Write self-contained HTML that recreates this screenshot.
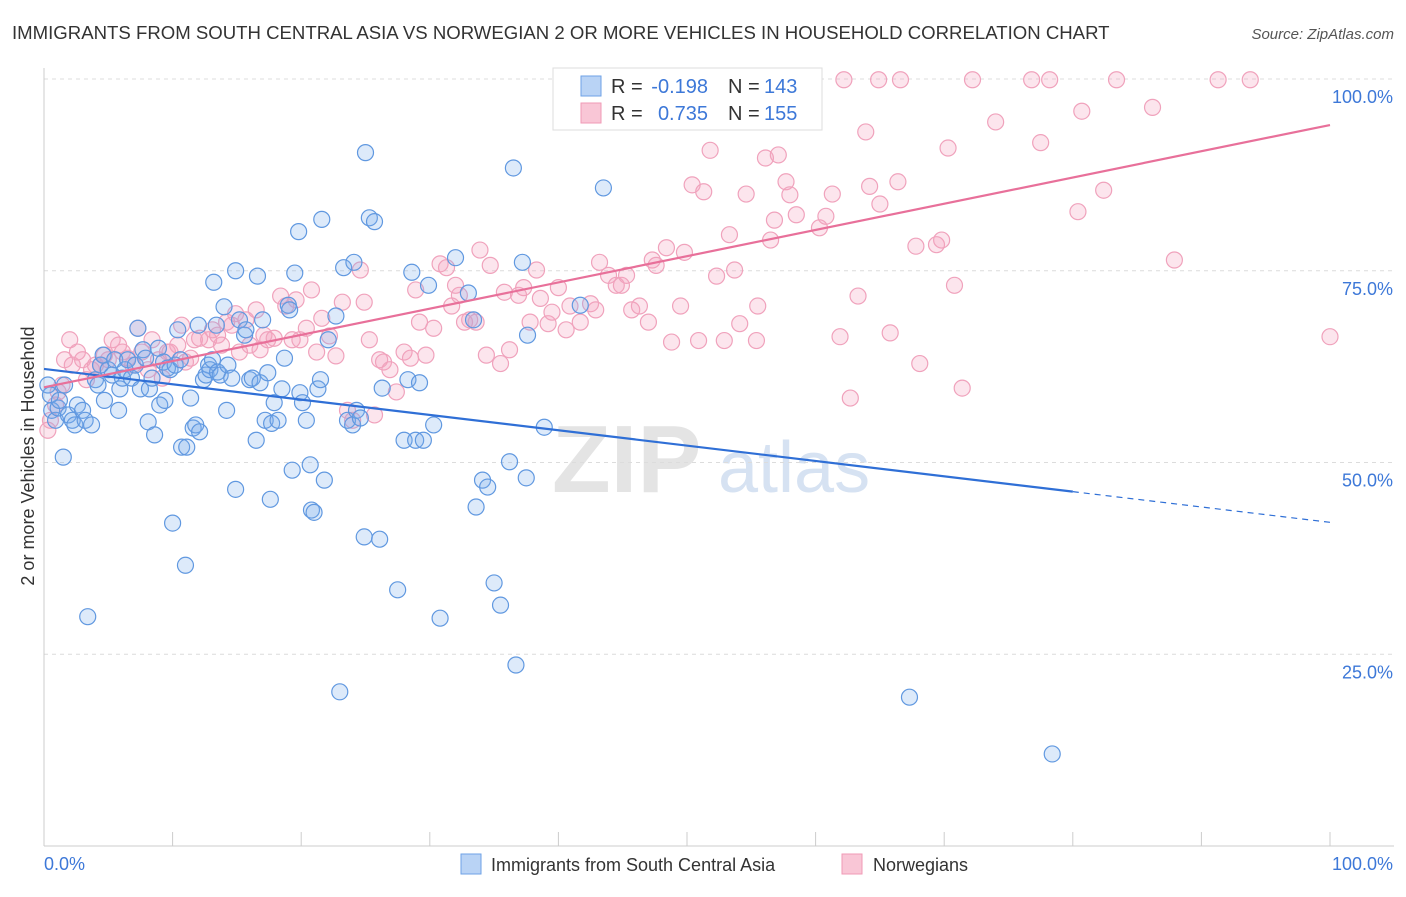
<!DOCTYPE html>
<html><head><meta charset="utf-8"><style>
body{margin:0;background:#fff;font-family:"Liberation Sans",sans-serif;}
svg text{font-family:"Liberation Sans",sans-serif;}
</style></head><body>
<svg id="chart" width="1406" height="892" xmlns="http://www.w3.org/2000/svg">
<text x="12" y="39" font-size="18.6" fill="#333">IMMIGRANTS FROM SOUTH CENTRAL ASIA VS NORWEGIAN 2 OR MORE VEHICLES IN HOUSEHOLD CORRELATION CHART</text>
<text x="1394" y="39" font-size="15" fill="#555" text-anchor="end" font-style="italic">Source: ZipAtlas.com</text>
<text transform="translate(34,456) rotate(-90)" font-size="18" fill="#333" text-anchor="middle">2 or more Vehicles in Household</text>
<g><text x="552" y="492" font-size="96" fill="#e4e4e4" font-family="Liberation Serif" font-weight="bold">ZIP</text><text x="718" y="492" font-size="72" fill="#d6e2f2">atlas</text></g>
<g id="grid"></g>
<g id="axes"></g>
<g id="pink"></g>
<g id="blue"></g>
<g id="trends"></g>
<g>
<rect x="553" y="68" width="269" height="62" fill="#fff" stroke="#ddd"/>
<rect x="581" y="76" width="20" height="20" fill="#b9d3f5" stroke="#6ea2e6"/>
<rect x="581" y="103" width="20" height="20" fill="#f9c6d6" stroke="#f09ab6"/>
<text x="611" y="93" font-size="20" fill="#333">R =</text>
<text x="708" y="93" font-size="20" fill="#3d78d8" text-anchor="end">-0.198</text>
<text x="728" y="93" font-size="20" fill="#333">N =</text>
<text x="764" y="93" font-size="20" fill="#3d78d8">143</text>
<text x="611" y="120" font-size="20" fill="#333">R =</text>
<text x="708" y="120" font-size="20" fill="#3d78d8" text-anchor="end">0.735</text>
<text x="728" y="120" font-size="20" fill="#333">N =</text>
<text x="764" y="120" font-size="20" fill="#3d78d8">155</text>
</g>
<g>
<rect x="461" y="854" width="20" height="20" fill="#b9d3f5" stroke="#6ea2e6"/>
<text x="491" y="871" font-size="18" fill="#333">Immigrants from South Central Asia</text>
<rect x="842" y="854" width="20" height="20" fill="#f9c6d6" stroke="#f09ab6"/>
<text x="873" y="871" font-size="18" fill="#333">Norwegians</text>
</g>
</svg>
<script>
const yTicks=[100,75,50,25];
const yTickLabels=["100.0%","75.0%","50.0%","25.0%"];
const xTicks=[0,10,20,30,40,50,60,70,80,90,100];
const blueX=[0.3,0.5,0.6,0.9,1.1,1.2,1.5,1.6,1.9,2.2,2.4,2.6,3.0,3.2,3.4,3.7,4.0,4.2,4.4,4.6,4.7,5.0,5.3,5.5,5.8,5.9,6.1,6.3,6.5,6.8,7.1,7.3,7.5,7.7,7.9,8.1,8.2,8.4,8.6,8.9,9.0,9.3,9.4,9.6,9.8,10.0,10.2,10.4,10.6,10.7,11.0,11.1,11.4,11.6,11.8,12.0,12.1,12.4,12.6,12.8,12.9,13.1,13.2,13.4,13.5,13.7,14.0,14.2,14.3,14.6,14.9,14.9,15.2,15.6,15.7,16.0,16.2,16.5,16.6,16.8,17.0,17.2,17.4,17.6,17.7,17.9,18.2,18.5,18.7,19.0,19.1,19.3,19.5,19.8,19.9,20.1,20.4,20.7,20.8,21.0,21.3,21.5,21.6,21.8,22.1,22.7,23.0,23.3,23.6,24.0,24.1,24.3,24.6,24.9,25.0,25.3,25.7,26.1,26.3,27.5,28.0,28.3,28.6,28.9,29.2,29.5,29.9,30.3,30.8,32.0,33.0,33.4,33.6,34.1,34.5,35.0,35.5,36.2,36.5,36.7,37.2,37.5,37.6,38.9,41.7,43.5,67.3,78.4];
const blueY=[60.1,58.8,56.8,55.5,57.1,58.1,50.7,60.1,56.2,55.5,54.9,57.5,56.8,55.5,29.9,54.9,60.8,60.1,62.7,64.0,58.1,62.1,61.4,63.4,56.8,59.6,61.0,62.1,63.4,61.0,62.7,67.5,59.6,64.7,63.6,55.3,59.6,61.0,53.6,64.9,57.5,63.1,58.1,62.3,62.1,42.1,62.7,67.3,63.4,52.0,36.6,52.0,58.4,54.5,54.9,67.9,54.0,60.8,61.4,62.7,62.1,63.4,73.5,67.9,61.8,61.4,70.3,56.8,62.7,61.0,46.5,75.0,68.6,66.6,67.3,60.8,61.0,52.9,74.3,60.4,68.6,55.5,61.7,45.2,55.1,57.8,55.5,59.6,63.6,70.5,69.9,49.0,74.7,80.1,59.1,57.8,55.5,49.7,43.8,43.5,59.6,60.8,81.7,47.7,66.0,69.1,20.1,75.4,55.5,54.9,76.1,56.8,55.8,40.3,90.4,81.9,81.4,40.0,59.7,33.4,52.9,60.8,74.8,52.9,60.4,52.9,73.1,54.9,29.7,76.7,72.1,68.6,44.2,47.7,46.8,34.3,31.4,50.1,88.4,23.6,76.1,48.0,66.6,54.6,70.5,85.8,19.4,12.0];
const pinkX=[0.3,0.5,0.9,1.1,1.4,1.6,2.0,2.2,2.6,3.0,3.3,3.7,4.0,4.4,4.7,5.0,5.3,5.8,6.1,6.5,6.9,7.3,7.6,8.1,8.4,8.9,9.2,9.6,9.8,10.4,10.7,11.0,11.4,11.7,12.1,12.8,13.1,13.5,13.8,14.2,14.6,14.9,15.2,15.7,16.0,16.5,16.8,17.1,17.4,17.9,18.4,18.8,19.3,19.6,19.9,20.4,20.8,21.2,21.6,22.2,22.7,23.2,23.6,24.0,24.6,24.9,25.3,25.7,26.1,26.4,26.9,27.4,28.0,28.5,28.9,29.2,29.7,30.3,30.8,31.3,31.7,32.0,32.3,32.7,33.1,33.6,33.9,34.4,34.7,35.5,35.8,36.2,36.9,37.3,37.8,38.3,38.6,39.2,39.5,40.0,40.6,40.9,41.7,42.5,42.9,43.2,43.9,44.5,44.9,45.3,45.7,46.3,47.0,47.3,47.6,48.4,48.8,49.5,49.8,50.4,50.9,51.3,51.8,52.3,52.9,53.3,53.7,54.1,54.6,55.4,55.5,56.1,56.5,56.8,57.1,57.7,58.0,58.5,59.1,60.3,60.8,61.3,61.9,62.2,62.7,63.3,63.9,64.2,64.9,65.0,65.8,66.4,66.6,67.8,68.1,69.4,69.8,70.3,70.8,71.4,72.2,74.0,76.8,77.5,78.2,80.4,80.7,82.4,83.4,86.2,87.9,91.3,93.8,100];
const pinkY=[54.2,55.5,57.5,59.2,60.1,63.4,66.0,62.7,64.4,63.4,60.8,62.1,62.7,62.7,64.0,63.4,66.0,65.3,64.4,63.6,62.7,67.5,64.4,62.1,66.0,63.4,61.0,64.4,64.4,65.3,67.9,63.1,63.6,66.0,66.2,66.0,67.3,66.6,65.3,68.3,67.9,69.4,64.4,68.6,65.3,69.9,64.7,66.6,66.0,66.2,71.7,70.4,66.0,71.2,66.0,67.5,72.5,64.4,68.8,66.5,63.9,70.9,56.8,55.5,75.1,70.9,66.0,56.2,63.4,63.1,62.1,59.2,64.4,63.6,72.5,68.3,64.0,67.5,75.9,75.4,70.4,73.1,71.8,68.3,68.6,68.3,77.7,64.0,75.7,62.9,72.2,64.7,71.8,72.8,68.3,75.1,71.4,68.1,69.6,72.8,67.3,70.4,68.3,70.7,69.9,76.1,74.4,73.1,73.1,74.4,69.9,70.4,68.3,76.4,75.7,78.0,65.7,70.4,77.4,86.2,65.9,85.3,90.7,74.3,65.9,79.7,75.1,68.1,85.0,65.9,70.4,89.7,79.0,81.6,90.1,86.6,84.9,82.3,99.9,80.6,82.1,85.0,66.4,99.9,58.4,71.7,93.1,86.0,99.9,83.7,66.9,86.6,99.9,78.2,62.9,78.4,79.0,91.0,73.1,59.7,99.9,94.4,99.9,91.7,99.9,82.7,95.8,85.5,99.9,96.3,76.4,99.9,99.9,66.4,99.9];
const blueTrend=[[0,62.2],[80,46.2]];
const blueTrendDash=[[80,46.2],[100,42.2]];
const pinkTrend=[[0,59.8],[100,94.0]];

const NS="http://www.w3.org/2000/svg";
const X0=44,X1=1330,Y0=846,Y100=79;
function sx(v){return X0+(X1-X0)*v/100;}
function sy(v){return Y0-(Y0-Y100)*v/100;}
function mk(tag,attrs,parent){const e=document.createElementNS(NS,tag);for(const k in attrs)e.setAttribute(k,attrs[k]);parent.appendChild(e);return e;}
const grid=document.getElementById('grid'),axes=document.getElementById('axes');
yTicks.forEach((t,i)=>{
  const l=mk('line',{x1:X0,x2:1394,y1:sy(t),y2:sy(t),stroke:'#dcdcdc','stroke-dasharray':'4,4'},grid);
  
  
  const tx=mk('text',{x:1393,y:sy(t)+24,'font-size':18,fill:'#3d78d8','text-anchor':'end'},axes);
  tx.textContent=yTickLabels[i];
  
  
});
const ax=mk('line',{x1:X0,x2:X0,y1:68,y2:846,stroke:'#ccc'},axes);


const bx=mk('line',{x1:X0,x2:1394,y1:846,y2:846,stroke:'#ccc'},axes);


xTicks.forEach(t=>{
  const l=mk('line',{x1:sx(t),x2:sx(t),y1:832,y2:846,stroke:'#ccc'},axes);
  
  
});
const xl0=mk('text',{x:44,y:870,'font-size':18,fill:'#3d78d8'},axes);xl0.textContent='0.0%';


const xl1=mk('text',{x:1393,y:870,'font-size':18,fill:'#3d78d8','text-anchor':'end'},axes);xl1.textContent='100.0%';


function pts(xs,ys,g,fill,stroke,name){
  for(let i=0;i<xs.length;i++){
    const c=mk('circle',{cx:sx(xs[i]),cy:sy(ys[i]),r:8,fill:fill,stroke:stroke,'stroke-width':1.2},g);
    
    
  }
}
pts(pinkX,pinkY,document.getElementById('pink'),'rgba(244,160,190,0.28)','#f0a2bc','norwegians-point');
pts(blueX,blueY,document.getElementById('blue'),'rgba(120,170,235,0.25)','#6098e0','immigrants-point');
const tr=document.getElementById('trends');
function line(p,stroke,dash,name){
  const l=mk('line',{x1:sx(p[0][0]),y1:sy(p[0][1]),x2:sx(p[1][0]),y2:sy(p[1][1]),stroke:stroke,'stroke-width':dash?1.2:2.2},tr);
  if(dash)l.setAttribute('stroke-dasharray','6,5');
  
  
}
line(blueTrend,'#2f6fd6',false,'immigrants-trend-line');
line(blueTrendDash,'#2f6fd6',true,'immigrants-trend-extension');
line(pinkTrend,'#e8709a',false,'norwegians-trend-line');
</script>
</body></html>
